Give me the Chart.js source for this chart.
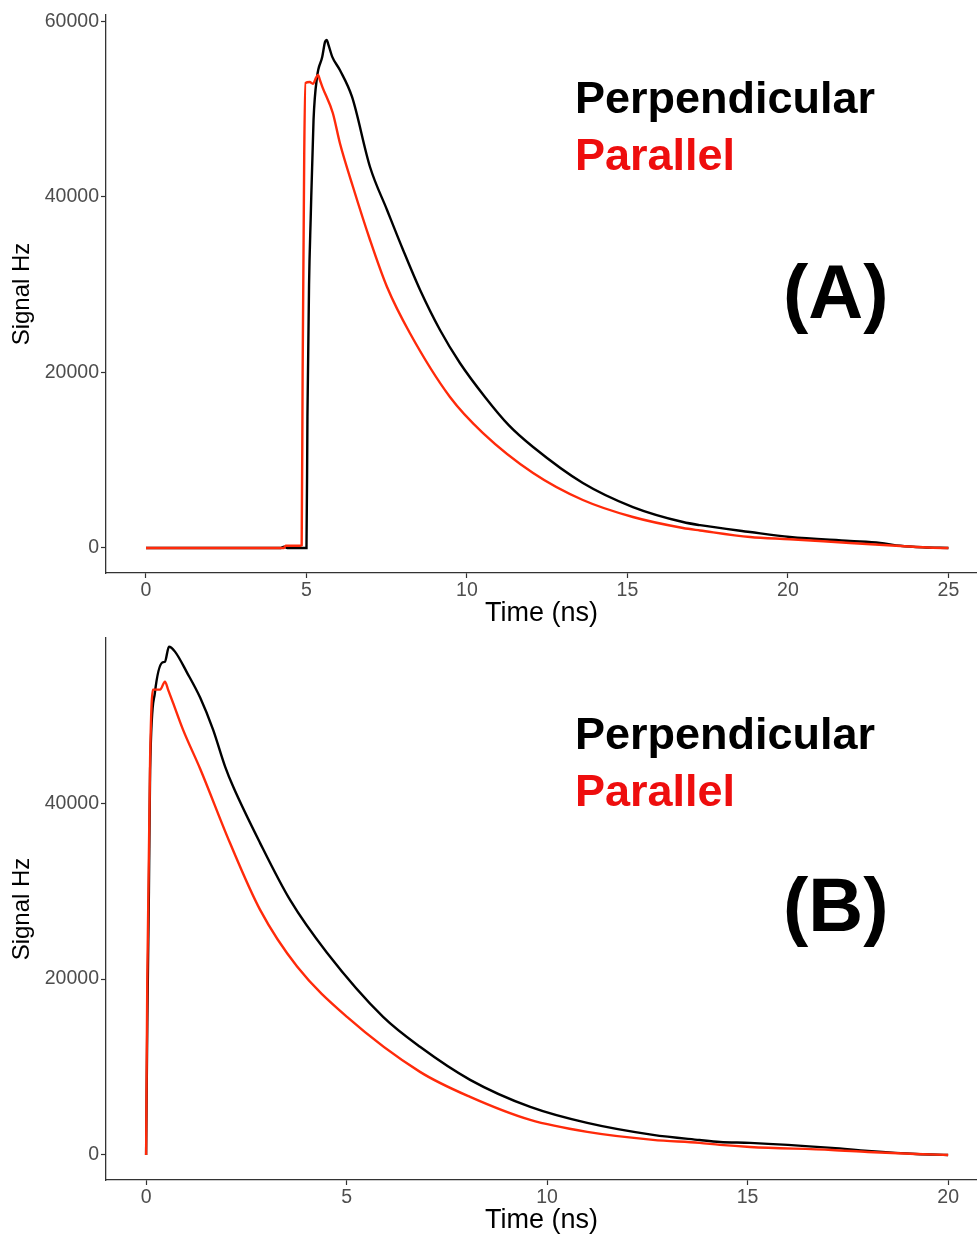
<!DOCTYPE html>
<html><head><meta charset="utf-8">
<script src="https://cdn.jsdelivr.net/npm/chart.js@4.4.0/dist/chart.umd.min.js"></script>
<style>
html,body{margin:0;padding:0;background:#fff;width:977px;height:1235px;overflow:hidden;}
canvas{position:absolute;left:0;}
#cA{top:0}
#cB{top:620px}
</style></head><body>
<canvas id="cA" width="977" height="635" style="width:977px;height:635px"></canvas>
<canvas id="cB" width="977" height="615" style="width:977px;height:615px"></canvas>
<script>
// ---------- Panel A data (Time in ns, Signal in Hz) ----------
const timeA_perp = [0, 4.2, 4.3, 4.4, 5.0, 5.03, 5.08, 5.13, 5.22, 5.33, 5.49, 5.58, 5.63, 5.68, 5.8, 6.04, 6.42, 6.98, 7.51, 8.01, 8.54, 9.16, 9.78, 10.56, 11.3, 12.06, 13.61, 15.17, 16.73, 17.26, 18.82, 20.06, 21.93, 22.87, 23.5, 24.2, 25];
const sigA_perp  = [0, 0, 150, 0, 0, 15000, 30000, 37400, 48800, 53700, 55950, 57700, 57900, 57400, 56000, 54470, 51400, 43420, 38520, 33960, 29400, 24840, 21080, 17210, 14000, 11510, 7410, 4670, 2960, 2600, 1820, 1250, 800, 570, 250, 80, 0];
const timeA_para = [0, 4.3, 4.35, 4.8, 4.85, 4.88, 4.93, 4.97, 5.1, 5.2, 5.3, 5.36, 5.42, 5.5, 5.82, 6.04, 6.45, 6.98, 7.51, 8.22, 9.47, 10.5, 12.06, 13.61, 15.17, 16.73, 17.26, 18.82, 20.06, 21.93, 23.5, 24.5, 25];
const sigA_para  = [0, 0, 250, 250, 300, 20000, 45000, 53000, 53100, 52900, 53600, 53900, 53300, 52500, 49570, 46150, 41140, 35100, 29740, 24500, 17210, 13100, 8550, 5470, 3530, 2280, 2000, 1250, 1000, 570, 230, 30, 0];
const xTicksA = [0, 5, 10, 15, 20, 25];
const yTicksA = [0, 20000, 40000, 60000];

// ---------- Panel B data ----------
const timeB_perp = [0, 0.03, 0.07, 0.1, 0.22, 0.4, 0.47, 0.57, 0.72, 1.02, 1.35, 1.67, 1.97, 2.17, 2.84, 3.59, 4.51, 5.91, 6.83, 8.08, 9.58, 11.0, 12.64, 13.8, 14.31, 15.06, 17.1, 18.0, 19.2, 20];
const sigB_perp  = [0, 15000, 30000, 43800, 52600, 56000, 56100, 57800, 57250, 54870, 52000, 48380, 44170, 41900, 35500, 29000, 23000, 15700, 12300, 8540, 5460, 3640, 2280, 1700, 1480, 1370, 800, 460, 110, 0];
const timeB_para = [0, 0.03, 0.1, 0.17, 0.35, 0.47, 0.55, 0.67, 0.92, 1.35, 2.09, 2.84, 3.77, 5.01, 6.83, 8.08, 9.58, 11.0, 12.64, 13.8, 14.31, 15.06, 17.1, 18.0, 19.2, 20];
const sigB_para  = [0, 20000, 45000, 52930, 52930, 53840, 52900, 51450, 48380, 43900, 35500, 27900, 21400, 15700, 9450, 6600, 3980, 2620, 1710, 1370, 1140, 910, 570, 340, 110, 0];
const xTicksB = [0, 5, 10, 15, 20];
const yTicksB = [0, 20000, 40000];

const seriesNames = ['Perpendicular', 'Parallel'];
const seriesColors = ['#000000', '#ff2a0a'];
const panelTags = ['(A)', '(B)'];
const xTitle = 'Time (ns)';
const yTitle = 'Signal Hz';

const FONT = "'Liberation Sans', Arial, Helvetica, sans-serif";
const AXIS = '#333333';
const TICKC = '#4d4d4d';

function pts(xs, ys) { return xs.map((x, i) => ({x: x, y: ys[i]})); }

function textPlugin(items) {
  return {
    id: 'panelText',
    afterDraw(chart) {
      const ctx = chart.ctx;
      ctx.save();
      ctx.textAlign = 'left';
      ctx.textBaseline = 'alphabetic';
      items.forEach(it => {
        ctx.font = 'bold ' + it.size + 'px ' + FONT;
        ctx.fillStyle = it.color;
        ctx.fillText(it.text, it.x, it.y);
      });
      ctx.restore();
    }
  };
}

function makeChart(id, cfg) {
  return new Chart(document.getElementById(id), {
    type: 'line',
    data: {
      datasets: [
        {label: seriesNames[0], data: pts(cfg.tp, cfg.sp), borderColor: seriesColors[0], borderWidth: 2.4, pointRadius: 0, cubicInterpolationMode: 'monotone', order: 2},
        {label: seriesNames[1], data: pts(cfg.tq, cfg.sq), borderColor: seriesColors[1], borderWidth: 2.4, pointRadius: 0, cubicInterpolationMode: 'monotone', order: 1}
      ]
    },
    options: {
      responsive: false,
      animation: false,
      devicePixelRatio: 1,
      layout: {padding: {top: cfg.padTop, left: 0, right: 0, bottom: 0}},
      plugins: {legend: {display: false}, tooltip: {enabled: false}},
      scales: {
        x: {
          type: 'linear', min: cfg.xmin, max: cfg.xmax,
          afterBuildTicks: s => { s.ticks = cfg.xt.map(v => ({value: v})); },
          afterFit: s => { s.height = cfg.xh; },
          ticks: {autoSkip: false, maxRotation: 0, color: TICKC, font: {family: FONT, size: 19.5}, padding: 1, callback: v => String(v)},
          grid: {display: true, drawOnChartArea: false, drawTicks: true, tickLength: 5, tickColor: AXIS, tickWidth: 1.2},
          border: {display: true, color: AXIS, width: 1.3},
          title: {display: true, text: xTitle, color: '#000', font: {family: FONT, size: 27, lineHeight: 1}, padding: {top: 0, bottom: cfg.xtPad}}
        },
        y: {
          type: 'linear', min: cfg.ymin, max: cfg.ymax,
          afterBuildTicks: s => { s.ticks = cfg.yt.map(v => ({value: v})); },
          afterFit: s => { s.width = 106; },
          ticks: {autoSkip: false, color: TICKC, font: {family: FONT, size: 19.5}, padding: 2, callback: v => String(v)},
          grid: {display: true, drawOnChartArea: false, drawTicks: true, tickLength: 5, tickColor: AXIS, tickWidth: 1.2},
          border: {display: true, color: AXIS, width: 1.3},
          title: {display: true, text: yTitle, color: '#000', font: {family: FONT, size: 24, lineHeight: 1}, padding: {top: 10, bottom: 0}}
        }
      }
    },
    plugins: [textPlugin(cfg.texts)]
  });
}

makeChart('cA', {
  tp: timeA_perp, sp: sigA_perp, tq: timeA_para, sq: sigA_para,
  xmin: -1.246, xmax: 25.89, ymin: -2850, ymax: 60740, xt: xTicksA, yt: yTicksA,
  padTop: 15, xh: 62, xtPad: 8,
  texts: [
    {text: seriesNames[0], x: 575, y: 113, size: 45, color: '#000000'},
    {text: seriesNames[1], x: 575, y: 170, size: 45, color: '#ee0e0e'},
    {text: panelTags[0], x: 783, y: 318, size: 76, color: '#000000'}
  ]
});

makeChart('cB', {
  tp: timeB_perp, sp: sigB_perp, tq: timeB_para, sq: sigB_para,
  xmin: -1.0, xmax: 20.72, ymin: -2850, ymax: 58800, xt: xTicksB, yt: yTicksB,
  padTop: 18, xh: 55, xtPad: 1,
  texts: [
    {text: seriesNames[0], x: 575, y: 129, size: 45, color: '#000000'},
    {text: seriesNames[1], x: 575, y: 186, size: 45, color: '#ee0e0e'},
    {text: panelTags[1], x: 783, y: 311, size: 76, color: '#000000'}
  ]
});
</script>
</body></html>
